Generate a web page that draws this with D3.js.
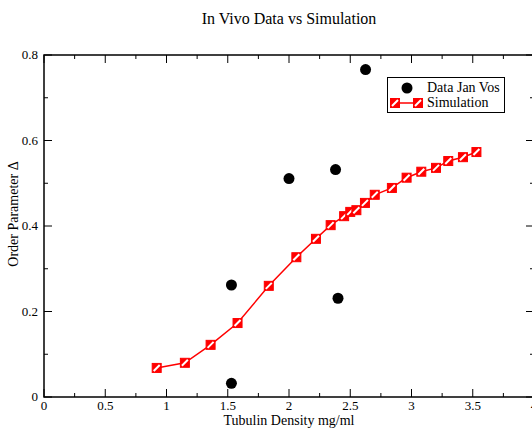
<!DOCTYPE html>
<html><head><meta charset="utf-8">
<script src="https://cdn.jsdelivr.net/npm/d3@7"></script>
<style>body{margin:0;background:#fff;}</style>
</head><body>
<script>
const dataX = [1.53, 1.53, 2.0, 2.38, 2.40, 2.625];
const dataY = [0.032, 0.262, 0.511, 0.532, 0.231, 0.766];
const simX = [0.92, 1.15, 1.36, 1.58, 1.835, 2.06, 2.22, 2.34, 2.45, 2.50, 2.55, 2.62, 2.70, 2.84, 2.96, 3.08, 3.20, 3.30, 3.42, 3.53];
const simY = [0.068, 0.080, 0.122, 0.173, 0.260, 0.327, 0.370, 0.402, 0.423, 0.433, 0.437, 0.454, 0.473, 0.489, 0.513, 0.527, 0.536, 0.552, 0.561, 0.573];
const xTicks = [0, 0.5, 1, 1.5, 2, 2.5, 3, 3.5, 4];
const yTicks = [0, 0.2, 0.4, 0.6, 0.8];
const xTickLabels = ["0", "0.5", "1", "1.5", "2", "2.5", "3", "3.5", "4"];
const yTickLabels = ["0", "0.2", "0.4", "0.6", "0.8"];

const FONT = "'Liberation Serif', 'DejaVu Serif', 'Times New Roman', serif";
const W = 532, H = 430;
const L = 44, R = 534, T = 55, B = 397;
const svg = d3.select("body").append("svg").attr("width", W).attr("height", H)
  .style("display", "block").attr("font-family", FONT);
const x = d3.scaleLinear().domain([0, 4]).range([L, R]);
const y = d3.scaleLinear().domain([0, 0.8]).range([B, T]);

// frame
svg.append("rect").attr("x", L).attr("y", T).attr("width", R - L).attr("height", B - T)
  .attr("fill", "none").attr("stroke", "#000").attr("stroke-width", 1.5);

// ticks (inward, all four sides)
const xMinor = d3.range(0.25, 4, 0.5);
const yMinor = d3.range(0.1, 0.8, 0.2);
const tk = svg.append("g").attr("stroke", "#000").attr("stroke-width", 1);
xTicks.forEach(v => {
  tk.append("line").attr("x1", x(v)).attr("x2", x(v)).attr("y1", B).attr("y2", B - 8);
  tk.append("line").attr("x1", x(v)).attr("x2", x(v)).attr("y1", T).attr("y2", T + 8);
});
xMinor.forEach(v => {
  tk.append("line").attr("x1", x(v)).attr("x2", x(v)).attr("y1", B).attr("y2", B - 4);
  tk.append("line").attr("x1", x(v)).attr("x2", x(v)).attr("y1", T).attr("y2", T + 4);
});
yTicks.forEach(v => {
  tk.append("line").attr("x1", L).attr("x2", L + 8).attr("y1", y(v)).attr("y2", y(v));
  tk.append("line").attr("x1", R).attr("x2", R - 8).attr("y1", y(v)).attr("y2", y(v));
});
yMinor.forEach(v => {
  tk.append("line").attr("x1", L).attr("x2", L + 4).attr("y1", y(v)).attr("y2", y(v));
  tk.append("line").attr("x1", R).attr("x2", R - 4).attr("y1", y(v)).attr("y2", y(v));
});

// tick labels
svg.append("g").selectAll("text").data(xTicks).join("text")
  .attr("font-family", FONT)
  .attr("x", d => x(d)).attr("y", 410).attr("text-anchor", "middle")
  .attr("font-size", 13).text((d, i) => xTickLabels[i]);
svg.append("g").selectAll("text").data(yTicks).join("text")
  .attr("font-family", FONT)
  .attr("x", 38).attr("y", d => y(d) + 4).attr("text-anchor", "end")
  .attr("font-size", 13).text((d, i) => yTickLabels[i]);

// titles
svg.append("text").attr("font-family", FONT).attr("x", 289).attr("y", 24).attr("text-anchor", "middle")
  .attr("font-size", 16).text("In Vivo Data vs Simulation");
svg.append("text").attr("font-family", FONT).attr("x", 289).attr("y", 425).attr("text-anchor", "middle")
  .attr("font-size", 14).text("Tubulin Density mg/ml");
svg.append("text").attr("font-family", FONT).attr("transform", "translate(18,214) rotate(-90)").attr("text-anchor", "middle")
  .attr("font-size", 14).text("Order Parameter Δ");

// simulation line
const simPts = simX.map((v, i) => [v, simY[i]]);
svg.append("path").datum(simPts)
  .attr("d", d3.line().x(d => x(d[0])).y(d => y(d[1])))
  .attr("fill", "none").attr("stroke", "#ff0000").attr("stroke-width", 1.5);

function square(g, cx, cy) {
  const s = 9;
  g.append("rect").attr("x", cx - s / 2).attr("y", cy - s / 2).attr("width", s).attr("height", s)
    .attr("fill", "#ff0000").attr("stroke", "#ff0000").attr("stroke-width", 1);
  g.append("line").attr("x1", cx - 3).attr("y1", cy + 3).attr("x2", cx + 3).attr("y2", cy - 3)
    .attr("stroke", "#fff").attr("stroke-width", 2);
}
const sq = svg.append("g");
simPts.forEach(d => square(sq, x(d[0]), y(d[1])));

// data points
svg.append("g").selectAll("circle").data(dataX.map((v, i) => [v, dataY[i]])).join("circle")
  .attr("cx", d => x(d[0])).attr("cy", d => y(d[1])).attr("r", 5.5).attr("fill", "#000");

// legend
const lg = svg.append("g");
lg.append("rect").attr("x", 387.5).attr("y", 77.5).attr("width", 117).attr("height", 35)
  .attr("fill", "#fff").attr("stroke", "#000").attr("stroke-width", 1);
lg.append("circle").attr("cx", 407).attr("cy", 88).attr("r", 5.5).attr("fill", "#000");
lg.append("text").attr("font-family", FONT).attr("x", 427).attr("y", 92).attr("font-size", 14).text("Data Jan Vos");
lg.append("line").attr("x1", 395).attr("x2", 418).attr("y1", 103).attr("y2", 103)
  .attr("stroke", "#ff0000").attr("stroke-width", 1.5);
square(lg, 395, 103);
square(lg, 418, 103);
lg.append("text").attr("font-family", FONT).attr("x", 427).attr("y", 107).attr("font-size", 14).text("Simulation");
</script>
</body></html>
